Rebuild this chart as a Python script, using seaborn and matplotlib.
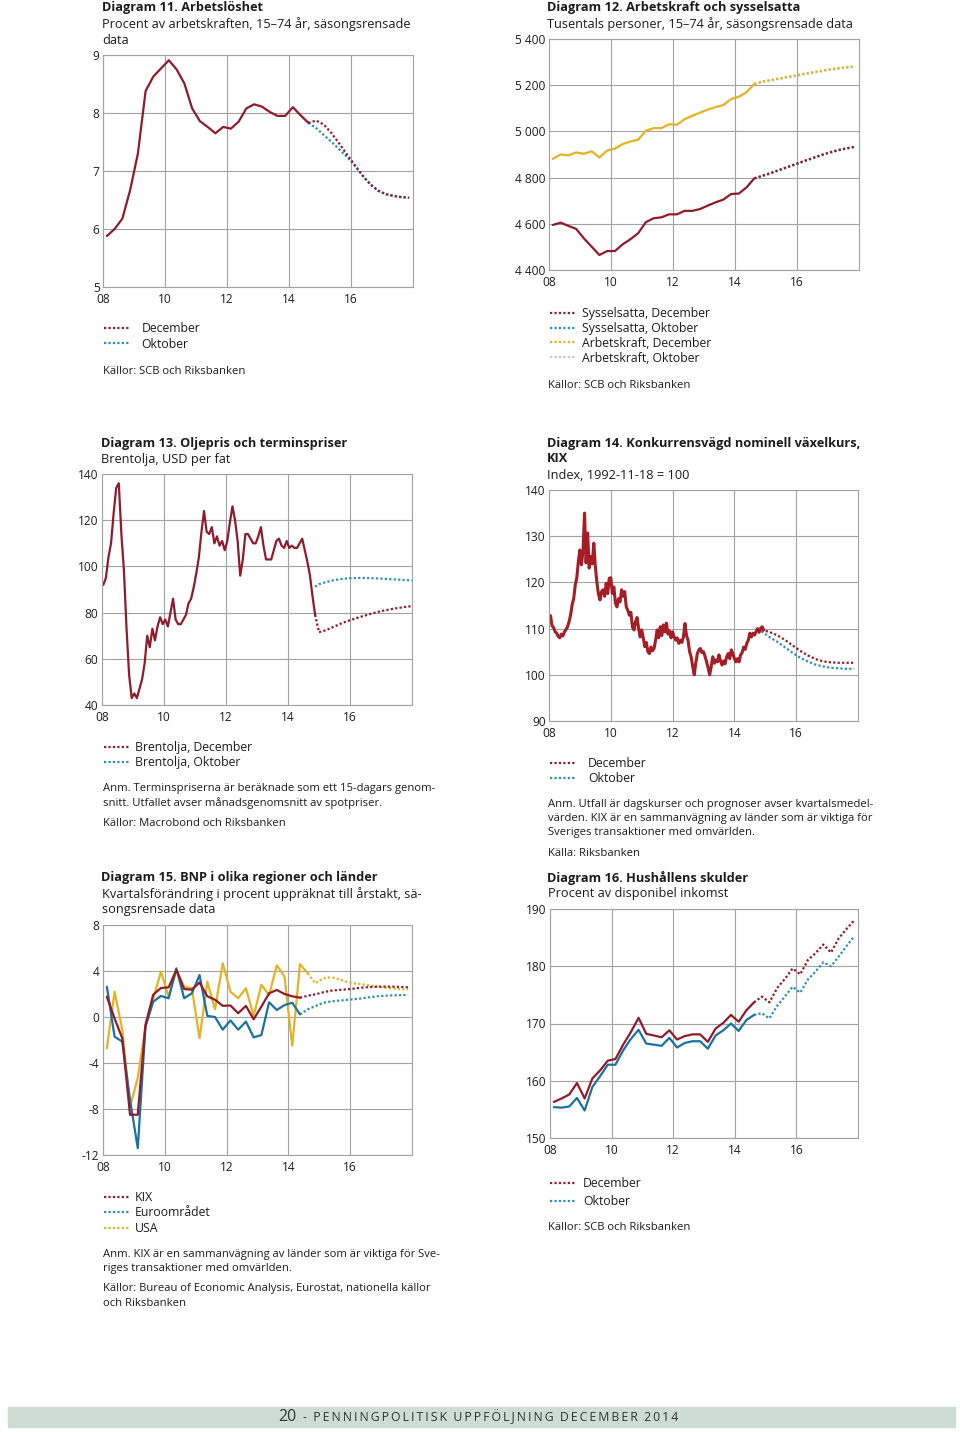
import numpy as np
import matplotlib
matplotlib.use("Agg")
import matplotlib.pyplot as plt
from matplotlib.lines import Line2D
from matplotlib.patches import Rectangle
import seaborn as sns

# -----------------------------------------------------------------------------
# Data
# -----------------------------------------------------------------------------
# Diagram 11 - unemployment, quarterly 2008Q1-2014Q3, forecasts from 2014Q3
unemp = [5.88, 6.00, 6.18, 6.67, 7.30, 8.38, 8.63, 8.77, 8.91, 8.75, 8.51, 8.08,
         7.86, 7.76, 7.65, 7.76, 7.73, 7.85, 8.08, 8.15, 8.11, 8.02, 7.95, 7.95,
         8.10, 7.96, 7.83]
unemp_dec = [7.83, 7.87, 7.80, 7.65, 7.47, 7.28, 7.10, 6.92, 6.77, 6.66, 6.60,
             6.57, 6.55, 6.54]
unemp_oct = [7.83, 7.74, 7.62, 7.50, 7.37, 7.24, 7.09, 6.92, 6.77, 6.66, 6.60,
             6.57, 6.55, 6.54]

# Diagram 12 - labour force and employed, thousands
labour = [4881, 4900, 4896, 4909, 4903, 4914, 4887, 4917, 4925, 4945, 4956, 4964,
          5003, 5014, 5014, 5031, 5029, 5053, 5068, 5081, 5095, 5105, 5114, 5140,
          5150, 5170, 5206]
employed = [4595, 4605, 4591, 4578, 4537, 4501, 4465, 4482, 4482, 4511, 4533, 4559,
            4607, 4624, 4628, 4641, 4641, 4656, 4656, 4664, 4679, 4693, 4705, 4729,
            4731, 4758, 4797]
labour_dec = [5206, 5215, 5222, 5228, 5234, 5240, 5247, 5253, 5259, 5265, 5270,
              5275, 5279, 5282]
labour_oct = [5206, 5213, 5220, 5226, 5232, 5238, 5244, 5250, 5256, 5262, 5267,
              5272, 5276, 5279]
employed_dec = [4797, 4808, 4819, 4831, 4843, 4855, 4867, 4879, 4891, 4902, 4912,
                4921, 4928, 4934]
employed_oct = [4797, 4806, 4817, 4829, 4841, 4853, 4865, 4877, 4889, 4900, 4910,
                4919, 4926, 4932]

# Diagram 13 - Brent, monthly 2008-01 .. 2014-11, forecasts quarterly
brent = [92, 95, 104, 110, 123, 134, 136, 114, 98, 73, 53, 43,
         45, 43, 47, 51, 58, 70, 65, 73, 68, 74, 78, 75,
         77, 74, 80, 86, 77, 75, 75, 77, 79, 84, 86, 91,
         97, 104, 115, 124, 115, 114, 117, 110, 113, 109, 111, 107,
         111, 119, 126, 120, 111, 96, 103, 114, 114, 112, 110, 110,
         113, 117, 109, 103, 103, 103, 107, 111, 112, 109, 108, 111,
         108, 109, 108, 108, 110, 112, 107, 102, 96, 87, 79]
brent_fc_x = [2014.875, 2015.0, 2015.25, 2015.5, 2015.75, 2016.0, 2016.25, 2016.5,
              2016.75, 2017.0, 2017.25, 2017.5, 2017.75, 2018.0]
brent_dec = [79.0, 71.5, 72.5, 74.0, 75.5, 76.7, 77.8, 78.8, 79.8, 80.6, 81.3,
             81.9, 82.4, 82.8]
brent_oct = [91.2, 92.3, 93.3, 94.1, 94.6, 94.9, 95.0, 95.0, 94.9, 94.7, 94.5,
             94.3, 94.1, 93.9]

# Diagram 14 - KIX, sampled every 0.05 year 2008.00-2014.95
kix_idx = [111.5, 112.8, 110.6, 110.2, 109.3, 109.0, 108.3, 108.0, 108.8, 108.4,
           109.3, 109.8, 110.4, 111.5, 113.0, 115.2, 116.5, 119.5, 121.0, 124.5,
           127.0, 123.8, 126.8, 135.0, 124.2, 130.7, 123.1, 125.6, 124.0, 128.5,
           123.4, 120.0, 117.5, 116.2, 118.0, 118.4, 117.0, 119.8, 117.6, 120.9,
           121.0, 117.6, 119.0, 115.5, 114.7, 116.5, 115.8, 118.4, 117.0, 118.0,
           114.7, 114.0, 112.9, 113.5, 110.4, 109.7, 111.5, 112.4, 110.0, 108.2,
           109.7, 108.0, 106.1, 107.0, 105.0, 104.6, 106.0, 105.2, 105.7, 107.5,
           109.7, 108.0, 110.4, 108.5, 110.8, 109.3, 111.2, 108.8, 109.5, 108.0,
           109.3, 108.2, 107.5, 108.0, 106.8, 107.5, 107.0, 108.2, 111.1, 108.5,
           107.5, 105.0, 103.9, 101.8, 100.0, 102.5, 104.6, 105.4, 105.7, 104.8,
           105.0, 104.0, 102.8, 101.5, 100.0, 101.8, 103.9, 102.5, 103.2, 102.8,
           104.3, 103.0, 102.1, 103.0, 102.4, 103.9, 104.6, 103.5, 105.4, 104.6,
           103.5, 102.8, 103.5, 102.8, 104.3, 104.8, 106.0, 105.5, 106.8, 107.5,
           109.0, 108.2, 109.0, 108.6, 109.3, 110.0, 109.2, 110.1, 110.4, 109.7]
kix_dec = [109.7, 109.3, 108.6, 107.6, 106.4, 105.2, 104.2, 103.4, 102.9, 102.7,
           102.6, 102.6, 102.6]
kix_oct = [109.4, 108.2, 107.2, 106.0, 104.8, 103.7, 102.9, 102.2, 101.8, 101.5,
           101.4, 101.3, 101.3]

# Diagram 15 - GDP growth, quarterly annualised
gdp_kix = [1.77, -0.13, -1.86, -8.5, -8.5, -0.67, 1.94, 2.52, 2.58, 4.1, 2.43, 2.38,
           3.0, 1.8, 1.5, 0.97, 1.0, 0.33, 0.97, -0.2, 0.9, 2.06, 2.35, 2.0,
           1.8, 1.68]
gdp_euro = [2.64, -1.71, -2.14, -7.2, -11.4, -0.84, 1.33, 1.83, 1.63, 4.23, 1.63, 2.06,
            3.65, 0.1, 0.0, -1.1, -0.3, -1.1, -0.4, -1.77, -1.57, 1.28, 0.61, 1.04,
            1.24, 0.23]
gdp_usa = [-2.72, 2.2, -1.13, -7.8, -5.3, -0.8, 1.6, 3.94, 1.76, 4.1, 2.65, 2.5,
           -1.84, 3.07, 0.67, 4.67, 2.2, 1.63, 2.5, 0.1, 2.8, 1.9, 4.5, 3.5,
           -2.5, 4.6, 3.8]
gdp_kix_f = [1.68, 1.85, 1.97, 2.15, 2.29, 2.35, 2.4, 2.47, 2.55, 2.6, 2.63, 2.64,
             2.64, 2.62, 2.58]
gdp_euro_f = [0.23, 0.67, 0.95, 1.24, 1.35, 1.42, 1.48, 1.55, 1.62, 1.72, 1.80,
              1.85, 1.88, 1.90, 1.91]
gdp_usa_f = [3.8, 2.93, 3.36, 3.45, 3.3, 3.07, 2.93, 2.85, 2.75, 2.65, 2.55, 2.48,
             2.43, 2.40]

# Diagram 16 - household debt, % of disposable income
debt_dec = [156.3, 156.9, 157.6, 159.6, 156.9, 160.4, 161.8, 163.5, 163.8, 166.3,
            168.5, 171.0, 168.2, 167.9, 167.6, 168.8, 167.2, 167.8, 168.1, 168.1,
            166.8, 169.1, 170.1, 171.5, 170.3, 172.3, 173.7]
debt_oct = [155.4, 155.3, 155.5, 157.0, 154.8, 158.9, 160.8, 162.8, 162.8, 165.3,
            167.3, 168.9, 166.5, 166.3, 166.1, 167.5, 165.8, 166.6, 166.9, 166.9,
            165.6, 167.9, 168.8, 170.0, 168.7, 170.6, 171.5]
debt_dec_f = [173.7, 174.7, 173.7, 176.2, 177.8, 179.6, 178.6, 181.1, 182.3, 183.8,
              182.4, 184.9, 186.5, 188.0]
debt_oct_f = [171.5, 171.8, 170.9, 173.1, 174.7, 176.4, 175.4, 177.7, 179.1, 180.7,
              180.0, 181.7, 183.5, 185.2]

x_labels = ["08", "10", "12", "14", "16"]

# date axes
def quarters(start, n):
    return start + 0.25 * np.arange(n)

q_hist = quarters(2008.125, 27)          # 2008Q1 .. 2014Q3
q_fc = quarters(2014.625, 14)            # 2014Q3 .. 2017Q4
months = 2008 + (np.arange(len(brent)) + 0.5) / 12
kix_x = 2008 + 0.05 * np.arange(len(kix_idx))
kix_fc_x = quarters(2014.875, 13)

# -----------------------------------------------------------------------------
# Style
# -----------------------------------------------------------------------------
DARK_RED = "#8f1c2c"
RED = "#a51d25"
BLUE = "#1a72a3"
TEAL = "#2b8fb6"
GOLD = "#e4b324"
LGREY = "#c6c6c6"
GRID = "#a2a2a2"
TEXT = "#1c1c1c"
DOT = (0, (1, 1))
FS = 9.2        # titles / subtitles
TICK = 8.6      # tick labels
LEG = 8.8       # legend entries
SMALL = 8.1     # notes and sources

sns.set_theme(style="white")
plt.rcParams["font.family"] = ["Open Sans", "DejaVu Sans"]
plt.rcParams["text.color"] = TEXT

W, H = 960, 1432
fig = plt.figure(figsize=(W / 100, H / 100), dpi=100)
fig.patch.set_facecolor("white")


def fx(x):
    return x / W


def fy(y):
    return 1 - y / H


def make_ax(l, t, r, b):
    return fig.add_axes([l / W, 1 - b / H, (r - l) / W, (b - t) / H])


def style_ax(ax, ylim, yticks, ylabels):
    ax.set_xlim(2008, 2018)
    ax.set_ylim(*ylim)
    ax.set_xticks([2008, 2010, 2012, 2014, 2016])
    ax.set_xticklabels(x_labels)
    ax.set_yticks(yticks)
    ax.set_yticklabels(ylabels)
    ax.grid(True, color=GRID, linewidth=0.8)
    for s in ax.spines.values():
        s.set_color(GRID)
        s.set_linewidth(0.8)
    ax.tick_params(axis="both", length=0, labelsize=TICK, colors=TEXT)
    ax.tick_params(axis="y", pad=2.5)
    ax.tick_params(axis="x", pad=4.5)
    ax.set_xlabel("")
    ax.set_ylabel("")


def line(ax, x, y, color, dotted=False, lw=1.6):
    sns.lineplot(x=x, y=y, ax=ax, color=color, linewidth=lw,
                 linestyle=DOT if dotted else "-", estimator=None, sort=False,
                 legend=False)


def text(x, y, s, bold=False, size=FS):
    fig.text(fx(x), fy(y), s, ha="left", va="center", fontsize=size,
             fontweight="bold" if bold else "normal", color=TEXT)


def legend(ax, x, y, items, spacing=0.2, textpad=1.0):
    handles = [Line2D([], [], color=c, linewidth=1.6, linestyle=DOT)
               for c, _ in items]
    ax.legend(handles, [l for _, l in items], loc="upper left",
              bbox_to_anchor=(fx(x), fy(y)), bbox_transform=fig.transFigure,
              frameon=False, fontsize=LEG, handlelength=2.1,
              handletextpad=textpad, labelspacing=spacing, borderpad=0,
              borderaxespad=0)


# ---- Diagram 11 -------------------------------------------------------------
ax = make_ax(103, 55, 413, 287)
line(ax, q_fc, unemp_oct, TEAL, dotted=True)
line(ax, q_fc, unemp_dec, DARK_RED, dotted=True)
line(ax, q_hist, unemp, DARK_RED)
style_ax(ax, (5, 9), [5, 6, 7, 8, 9], ["5", "6", "7", "8", "9"])
text(102, 8, "Diagram 11. Arbetslöshet", bold=True)
text(102, 24, "Procent av arbetskraften, 15–74 år, säsongsrensade")
text(102, 40, "data")
legend(ax, 104, 322, [(DARK_RED, "December"), (TEAL, "Oktober")],
       spacing=0.22, textpad=0.95)
text(103, 371, "Källor: SCB och Riksbanken", size=SMALL)

# ---- Diagram 12 -------------------------------------------------------------
ax = make_ax(549, 39, 859, 270)
line(ax, q_fc, labour_oct, LGREY, dotted=True)
line(ax, q_fc, labour_dec, GOLD, dotted=True)
line(ax, q_hist, labour, GOLD)
line(ax, q_fc, employed_oct, TEAL, dotted=True)
line(ax, q_fc, employed_dec, DARK_RED, dotted=True)
line(ax, q_hist, employed, DARK_RED)
style_ax(ax, (4400, 5400), [4400, 4600, 4800, 5000, 5200, 5400],
         ["4 400", "4 600", "4 800", "5 000", "5 200", "5 400"])
text(547, 8, "Diagram 12. Arbetskraft och sysselsatta", bold=True)
text(547, 24, "Tusentals personer, 15–74 år, säsongsrensade data")
legend(ax, 550, 307, [(DARK_RED, "Sysselsatta, December"),
                      (TEAL, "Sysselsatta, Oktober"),
                      (GOLD, "Arbetskraft, December"),
                      (LGREY, "Arbetskraft, Oktober")],
       spacing=0.15, textpad=0.5)
text(548, 386, "Källor: SCB och Riksbanken", size=SMALL)

# ---- Diagram 13 -------------------------------------------------------------
ax = make_ax(102, 474, 412, 705)
line(ax, brent_fc_x, brent_oct, TEAL, dotted=True)
line(ax, brent_fc_x, brent_dec, DARK_RED, dotted=True)
line(ax, months, brent, DARK_RED)
style_ax(ax, (40, 140), [40, 60, 80, 100, 120, 140],
         ["40", "60", "80", "100", "120", "140"])
text(101, 443, "Diagram 13. Oljepris och terminspriser", bold=True)
text(101, 459, "Brentolja, USD per fat")
legend(ax, 104, 741, [(DARK_RED, "Brentolja, December"),
                      (TEAL, "Brentolja, Oktober")],
       spacing=0.2, textpad=0.45)
text(103, 789, "Anm. Terminspriserna är beräknade som ett 15-dagars genom-", size=SMALL)
text(103, 803, "snitt. Utfallet avser månadsgenomsnitt av spotpriser.", size=SMALL)
text(103, 823, "Källor: Macrobond och Riksbanken", size=SMALL)

# ---- Diagram 14 -------------------------------------------------------------
ax = make_ax(549, 490, 858, 721)
line(ax, kix_fc_x, kix_oct, TEAL, dotted=True)
line(ax, kix_fc_x, kix_dec, DARK_RED, dotted=True)
line(ax, kix_x, kix_idx, RED, lw=2.2)
style_ax(ax, (90, 140), [90, 100, 110, 120, 130, 140],
         ["90", "100", "110", "120", "130", "140"])
text(547, 443, "Diagram 14. Konkurrensvägd nominell växelkurs,", bold=True)
text(547, 459, "KIX", bold=True)
text(547, 475, "Index, 1992-11-18 = 100")
legend(ax, 550, 757, [(DARK_RED, "December"), (TEAL, "Oktober")],
       spacing=0.2, textpad=1.0)
text(548, 805, "Anm. Utfall är dagskurser och prognoser avser kvartalsmedel-", size=SMALL)
text(548, 819, "värden. KIX är en sammanvägning av länder som är viktiga för", size=SMALL)
text(548, 833, "Sveriges transaktioner med omvärlden.", size=SMALL)
text(548, 853, "Källa: Riksbanken", size=SMALL)

# ---- Diagram 15 -------------------------------------------------------------
ax = make_ax(103, 925, 412, 1155)
line(ax, quarters(2014.625, len(gdp_usa_f)), gdp_usa_f, GOLD, dotted=True)
line(ax, quarters(2014.375, len(gdp_euro_f)), gdp_euro_f, TEAL, dotted=True)
line(ax, quarters(2014.375, len(gdp_kix_f)), gdp_kix_f, DARK_RED, dotted=True)
line(ax, quarters(2008.125, len(gdp_usa)), gdp_usa, GOLD)
line(ax, quarters(2008.125, len(gdp_euro)), gdp_euro, BLUE)
line(ax, quarters(2008.125, len(gdp_kix)), gdp_kix, DARK_RED)
style_ax(ax, (-12, 8), [-12, -8, -4, 0, 4, 8],
         ["-12", "-8", "-4", "0", "4", "8"])
text(101, 878, "Diagram 15. BNP i olika regioner och länder", bold=True)
text(102, 894, "Kvartalsförändring i procent uppräknat till årstakt, sä-")
text(102, 910, "songsrensade data")
legend(ax, 104, 1191, [(DARK_RED, "KIX"), (TEAL, "Euroområdet"),
                       (GOLD, "USA")], spacing=0.2, textpad=0.45)
text(103, 1255, "Anm. KIX är en sammanvägning av länder som är viktiga för Sve-", size=SMALL)
text(103, 1269, "riges transaktioner med omvärlden.", size=SMALL)
text(103, 1289, "Källor: Bureau of Economic Analysis, Eurostat, nationella källor", size=SMALL)
text(103, 1303, "och Riksbanken", size=SMALL)

# ---- Diagram 16 -------------------------------------------------------------
ax = make_ax(550, 909, 858, 1138)
line(ax, q_fc, debt_oct_f, TEAL, dotted=True)
line(ax, q_fc, debt_dec_f, DARK_RED, dotted=True)
line(ax, q_hist, debt_oct, BLUE)
line(ax, q_hist, debt_dec, DARK_RED)
style_ax(ax, (150, 190), [150, 160, 170, 180, 190],
         ["150", "160", "170", "180", "190"])
text(547, 878, "Diagram 16. Hushållens skulder", bold=True)
text(548, 894, "Procent av disponibel inkomst")
legend(ax, 550, 1177, [(DARK_RED, "December"), (TEAL, "Oktober")],
       spacing=0.4, textpad=0.6)
text(548, 1228, "Källor: SCB och Riksbanken", size=SMALL)

# ---- Footer -----------------------------------------------------------------
fig.patches.append(Rectangle((fx(8), fy(1427)), fx(947), 20 / H,
                             transform=fig.transFigure, color="#cddcd5",
                             zorder=0))
fig.text(fx(287), fy(1417), "20", ha="center", va="center", fontsize=11.5,
         color="#333333")
footer = "\u2009".join("- PENNINGPOLITISK UPPFÖLJNING DECEMBER 2014").replace(
    "\u2009 \u2009", "  ")
fig.text(fx(303), fy(1417), footer, ha="left", va="center", fontsize=8.8,
         color="#333333")

fig.savefig("out.png", dpi=100, facecolor="white")
